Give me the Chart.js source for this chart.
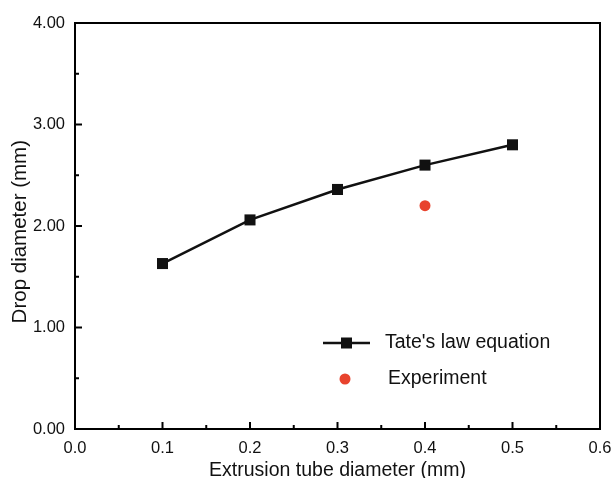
<!DOCTYPE html>
<html>
<head>
<meta charset="utf-8">
<script src="https://cdn.jsdelivr.net/npm/chart.js@4.4.1/dist/chart.umd.min.js"></script>
<style>
  html, body { margin: 0; padding: 0; background: #fff; }
  #wrap { width: 611px; height: 478px; }
</style>
</head>
<body>
<div id="wrap"><canvas id="myChart" width="611" height="478"></canvas></div>
<script>
// tube diameters (mm) and drop diameters (mm)
var tubeDiam = [0.1, 0.2, 0.3, 0.4, 0.5];
var tateDrop = [1.63, 2.06, 2.36, 2.60, 2.80];
var expTube = [0.4];
var expDrop = [2.20];
var legendLabels = ["Tate's law equation", "Experiment"];

var FONT = "'Liberation Sans', Arial, sans-serif";

// frame, inward ticks and legend drawn on top of the chart area
var framePlugin = {
  id: 'frame',
  afterDraw: function(chart) {
    var ctx = chart.ctx;
    var a = chart.chartArea;
    var xs = chart.scales.x, ys = chart.scales.y;
    ctx.save();
    ctx.strokeStyle = '#000';
    ctx.lineWidth = 2;
    ctx.beginPath();
    ctx.rect(a.left, a.top, a.right - a.left, a.bottom - a.top);
    ctx.stroke();

    // x ticks (major 0.1, minor 0.05)
    for (var i = 1; i < 12; i++) {
      var px = xs.getPixelForValue(i * 0.05);
      var len = (i % 2 === 0) ? 7 : 4;
      ctx.beginPath();
      ctx.moveTo(px, a.bottom);
      ctx.lineTo(px, a.bottom - len);
      ctx.stroke();
    }
    // y ticks (major 1, minor 0.5)
    for (var j = 1; j < 8; j++) {
      var py = ys.getPixelForValue(j * 0.5);
      var leny = (j % 2 === 0) ? 7 : 4;
      ctx.beginPath();
      ctx.moveTo(a.left, py);
      ctx.lineTo(a.left + leny, py);
      ctx.stroke();
    }

    // legend
    var ds0 = chart.data.datasets[0], ds1 = chart.data.datasets[1];
    var lx = 323, ly = 343;
    ctx.strokeStyle = ds0.borderColor;
    ctx.lineWidth = ds0.borderWidth;
    ctx.beginPath();
    ctx.moveTo(lx, ly);
    ctx.lineTo(lx + 47, ly);
    ctx.stroke();
    ctx.fillStyle = ds0.pointBackgroundColor;
    ctx.fillRect(lx + 23.5 - 5.5, ly - 5.5, 11, 11);
    ctx.fillStyle = ds1.pointBackgroundColor;
    ctx.beginPath();
    ctx.arc(345, 379, 5.5, 0, Math.PI * 2);
    ctx.fill();
    ctx.fillStyle = '#111';
    ctx.font = '19.5px ' + FONT;
    ctx.textBaseline = 'middle';
    ctx.textAlign = 'left';
    ctx.fillText(legendLabels[0], 385, ly);
    ctx.fillText(legendLabels[1], 388, 379);
    ctx.restore();
  }
};

new Chart(document.getElementById('myChart'), {
  type: 'scatter',
  data: {
    datasets: [{
      label: legendLabels[0],
      data: tubeDiam.map(function(x, i) { return {x: x, y: tateDrop[i]}; }),
      showLine: true,
      borderColor: '#111',
      borderWidth: 2.5,
      pointStyle: 'rect',
      pointRadius: 7.8,
      pointBackgroundColor: '#111',
      pointBorderWidth: 0,
      tension: 0
    }, {
      label: legendLabels[1],
      data: expTube.map(function(x, i) { return {x: x, y: expDrop[i]}; }),
      pointStyle: 'circle',
      pointRadius: 5.5,
      pointBackgroundColor: '#e8432d',
      pointBorderWidth: 0
    }]
  },
  plugins: [framePlugin],
  options: {
    responsive: false,
    animation: false,
    layout: { padding: { top: 23, right: 0, left: 0, bottom: 0 } },
    plugins: {
      legend: { display: false },
      tooltip: { enabled: false }
    },
    scales: {
      x: {
        type: 'linear',
        min: 0, max: 0.6,
        afterFit: function(s) { s.height = 49; s.paddingRight = 11; },
        grid: { display: false, drawTicks: false },
        border: { display: false },
        ticks: {
          stepSize: 0.1,
          padding: 10,
          color: '#111',
          font: { family: FONT, size: 16.5 },
          callback: function(v) { return Number(v).toFixed(1); }
        },
        title: {
          display: true,
          text: 'Extrusion tube diameter (mm)',
          color: '#111',
          font: { family: FONT, size: 19.5 },
          padding: { top: 0, bottom: -4 }
        }
      },
      y: {
        type: 'linear',
        min: 0, max: 4,
        afterFit: function(s) { s.width = 75; },
        grid: { display: false, drawTicks: false },
        border: { display: false },
        ticks: {
          stepSize: 1,
          padding: 10,
          color: '#111',
          font: { family: FONT, size: 16.5 },
          callback: function(v) { return Number(v).toFixed(2); }
        },
        title: {
          display: true,
          text: 'Drop diameter (mm)  ',
          color: '#111',
          font: { family: FONT, size: 20.5 },
          padding: { top: 8, bottom: 0 }
        }
      }
    }
  }
});
console.log("chartjs plot success");
</script>
</body>
</html>
